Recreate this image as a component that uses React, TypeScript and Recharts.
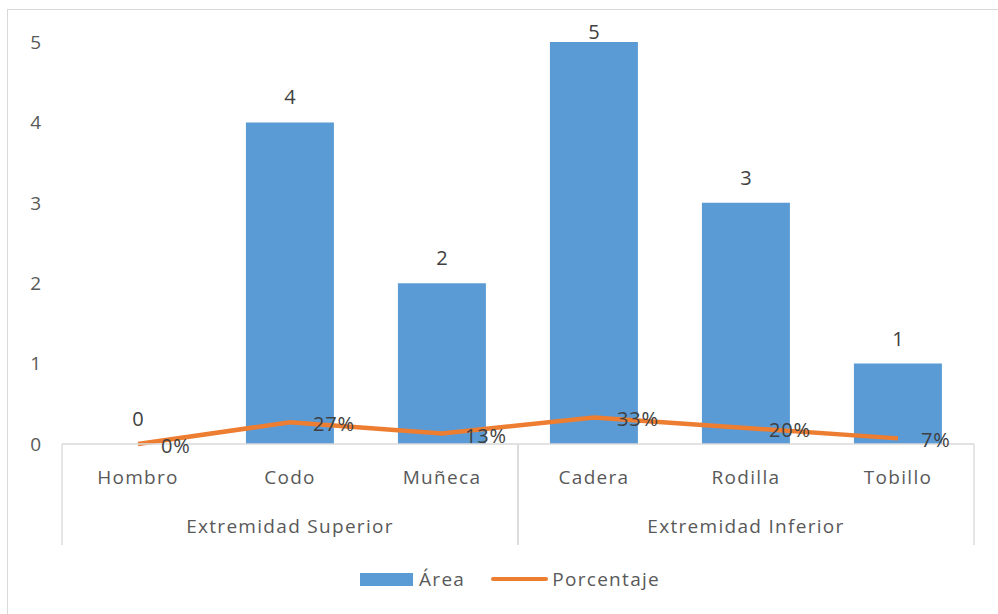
import { Bar, ComposedChart, LabelList, Line, XAxis, YAxis } from "recharts";

const parts = ["Hombro", "Codo", "Muñeca", "Cadera", "Rodilla", "Tobillo"];
const groups = [
  "Extremidad Superior",
  "Extremidad Superior",
  "Extremidad Superior",
  "Extremidad Inferior",
  "Extremidad Inferior",
  "Extremidad Inferior",
];
const area = [0, 4, 2, 5, 3, 1];
const porcentaje = [0, 0.27, 0.13, 0.33, 0.2, 0.07];
const yTicks = [0, 1, 2, 3, 4, 5];

const data = parts.map((name, i) => ({
  name,
  group: groups[i],
  area: area[i],
  porcentaje: porcentaje[i],
}));

const FONT = "'Open Sans', sans-serif";
const TEXT = "#595959";
const LABEL = "#404040";
const LINE_GRAY = "#d9d9d9";
const BLUE = "#5b9bd5";
const ORANGE = "#ed7d31";

const W = 998;
const H = 614;
const Y_AXIS_W = 62;
const M = { top: 42, right: 24, left: 0, bottom: 70 };
const AXIS_Y = 444;
const AXIS_END = AXIS_Y + 101;

function PartTick({ x, y, payload }: any) {
  return (
    <text x={x} y={y + 32} textAnchor="middle" fill={TEXT} fontSize={19} fontFamily={FONT} letterSpacing={1.3}>
      {payload.value}
    </text>
  );
}

// one tick per group: draws the group's bracket lines and its centred name
function GroupTick({ x, y, payload }: any) {
  const half = (W - Y_AXIS_W - M.right) / 4;
  return (
    <g>
      <line x1={x - half} x2={x - half} y1={AXIS_Y} y2={AXIS_END} stroke={LINE_GRAY} strokeWidth={1.3} />
      <line x1={x + half} x2={x + half} y1={AXIS_Y} y2={AXIS_END} stroke={LINE_GRAY} strokeWidth={1.3} />
      <text x={x} y={y + 31} textAnchor="middle" fill={TEXT} fontSize={19} fontFamily={FONT} letterSpacing={1.3}>
        {payload.value}
      </text>
    </g>
  );
}

// value above each bar, kept inside the top of the chart
function AreaLabel({ x, y, value }: any) {
  return (
    <text x={x} y={Math.max(y - 18, 39)} textAnchor="middle" fill={LABEL} fontSize={20} fontFamily={FONT}>
      {value}
    </text>
  );
}

function PctLabel({ x, y, value }: any) {
  return (
    <text x={x + 23} y={y + 9} textAnchor="start" fill={LABEL} fontSize={20} fontFamily={FONT} letterSpacing={0.8}>
      {`${Math.round(value * 100)}%`}
    </text>
  );
}

function LegendBox() {
  return (
    <div
      style={{
        position: "absolute",
        left: 360,
        top: 566,
        display: "flex",
        alignItems: "center",
        fontFamily: FONT,
        fontSize: 19,
        color: TEXT,
        letterSpacing: 1.3,
        whiteSpace: "nowrap",
      }}
    >
      <span style={{ display: "inline-block", width: 53, height: 13, background: BLUE, marginRight: 6 }} />
      <span style={{ marginRight: 26 }}>Área</span>
      <span style={{ display: "inline-block", width: 57, height: 4, borderRadius: 2, background: ORANGE, marginRight: 4 }} />
      <span>Porcentaje</span>
    </div>
  );
}

export default function App() {
  return (
    <div style={{ position: "absolute", left: 0, top: 0, width: W, height: H, background: "#fff", overflow: "hidden" }}>
      <div
        style={{
          position: "absolute",
          left: 7,
          top: 9,
          width: W + 20,
          height: H + 20,
          border: `1.5px solid ${LINE_GRAY}`,
          boxSizing: "border-box",
        }}
      />
      <ComposedChart width={W} height={H} data={data} margin={M} barCategoryGap="21%">
        <XAxis
          dataKey="name"
          xAxisId={0}
          height={50}
          interval={0}
          tick={<PartTick />}
          tickLine={false}
          axisLine={{ stroke: LINE_GRAY, strokeWidth: 1.3 }}
        />
        <XAxis
          dataKey="group"
          xAxisId={1}
          height={50}
          interval={0}
          allowDuplicatedCategory={false}
          tick={<GroupTick />}
          tickLine={false}
          axisLine={false}
        />
        <YAxis
          domain={[0, 5]}
          ticks={yTicks}
          interval={0}
          axisLine={false}
          tickLine={false}
          width={Y_AXIS_W}
          tick={{ fill: TEXT, fontSize: 19, fontFamily: FONT, dx: -13 }}
        />
        <Bar dataKey="area" xAxisId={0} fill={BLUE} isAnimationActive={false} />
        {/* invisible carrier for the bar value labels, so a zero bar still gets its "0" */}
        <Line
          dataKey="area"
          xAxisId={0}
          stroke="none"
          dot={false}
          activeDot={false}
          legendType="none"
          isAnimationActive={false}
        >
          <LabelList dataKey="area" content={<AreaLabel />} />
        </Line>
        <Line
          dataKey="porcentaje"
          xAxisId={0}
          type="linear"
          stroke={ORANGE}
          strokeWidth={4.5}
          dot={false}
          isAnimationActive={false}
        >
          <LabelList dataKey="porcentaje" content={<PctLabel />} />
        </Line>
      </ComposedChart>
      <LegendBox />
    </div>
  );
}
